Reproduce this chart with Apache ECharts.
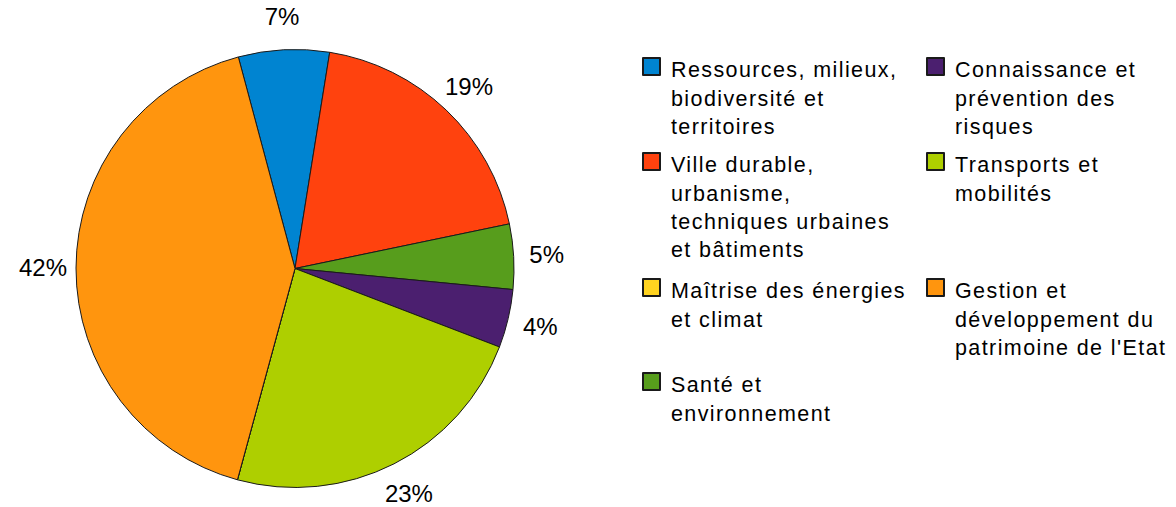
<!DOCTYPE html>
<html><head><meta charset="utf-8">
<script src="https://cdn.jsdelivr.net/npm/echarts@6/dist/echarts.min.js"></script>
<style>
html,body{margin:0;padding:0;background:#fff;}
#c{width:1176px;height:507px;}
#c text[style*="21.5px"]{letter-spacing:1.4px;}
</style></head><body><div id="c"></div>
<script>
// slice order (clockwise from top)
const categories = [
  'Ressources, milieux, biodiversité et territoires',
  'Ville durable, urbanisme, techniques urbaines et bâtiments',
  'Santé et environnement',
  'Connaissance et prévention des risques',
  'Transports et mobilités',
  'Maîtrise des énergies et climat',
  "Gestion et développement du patrimoine de l'Etat"
];
const values = [6.7, 19.2, 4.8, 4.3, 23.4, 0, 41.6];
const sliceColors = ['#0084d1', '#ff420e', '#579d1c', '#4b1f6f', '#aecf00', '#ffd320', '#ff950e'];

// legend order (row by row, two columns) and wrapped text
const legendOrder = [
  'Ressources, milieux, biodiversité et territoires',
  'Connaissance et prévention des risques',
  'Ville durable, urbanisme, techniques urbaines et bâtiments',
  'Transports et mobilités',
  'Maîtrise des énergies et climat',
  "Gestion et développement du patrimoine de l'Etat",
  'Santé et environnement'
];
const legendLines = [
  ['Ressources, milieux,', 'biodiversité et', 'territoires'],
  ['Connaissance et', 'prévention des', 'risques'],
  ['Ville durable,', 'urbanisme,', 'techniques urbaines', 'et bâtiments'],
  ['Transports et', 'mobilités'],
  ['Maîtrise des énergies', 'et climat'],
  ['Gestion et', 'développement du', "patrimoine de l'Etat"],
  ['Santé et', 'environnement']
];

const colX = [642, 926];
const rowTop = [58, 153, 279, 373];
const ICON = 17, LH = 28.4, DOFF = 3.75, FS = 21.5;

const legends = legendOrder.map((name, i) => {
  const n = legendLines[i].length;
  const P = (n - 1) * LH + 2 * DOFF;
  const H = n * LH + P;
  const iconTop = rowTop[Math.floor(i / 2)];
  return {
    data: [name],
    orient: 'vertical',
    left: colX[i % 2],
    top: iconTop - H / 2 + ICON / 2,
    padding: 0,
    itemWidth: ICON,
    itemHeight: ICON,
    icon: 'rect',
    selectedMode: false,
    formatter: () => legendLines[i].map(s => '{t|' + s + '}').join('\n'),
    textStyle: {
      padding: [P, 0, 0, 6],
      backgroundColor: 'rgba(0,0,0,0)',
      rich: {
        t: { fontFamily: 'Liberation Sans', fontSize: FS, color: '#000', lineHeight: LH }
      }
    }
  };
});

const pieData = categories.map((name, i) => ({
  name, value: values[i],
  itemStyle: { color: sliceColors[i] },
  label: values[i] === 0 ? { show: false } : undefined
}));

const chart = echarts.init(document.getElementById('c'), null, { renderer: 'svg' });
chart.setOption({
  backgroundColor: '#fff',
  animation: false,
  legend: legends,
  series: [
    {
      type: 'pie',
      center: [295, 268.5],
      radius: [0, 219],
      startAngle: 105,
      clockwise: true,
      percentPrecision: 0,
      silent: true,
      itemStyle: { borderColor: '#1a1a1a', borderWidth: 1 },
      label: { show: false },
      labelLine: { show: false },
      data: pieData
    },
    {
      type: 'pie',
      center: [295, 268.5],
      radius: [236, 262],
      startAngle: 105,
      clockwise: true,
      percentPrecision: 0,
      silent: true,
      itemStyle: { color: 'rgba(0,0,0,0)', borderWidth: 0 },
      label: {
        show: true, position: 'inside', formatter: '{d}%',
        fontFamily: 'Liberation Sans', fontSize: 24, color: '#000'
      },
      labelLine: { show: false },
      data: categories.map((name, i) => ({
        name, value: values[i],
        label: values[i] === 0 ? { show: false } : undefined
      }))
    }
  ]
});
</script></body></html>
